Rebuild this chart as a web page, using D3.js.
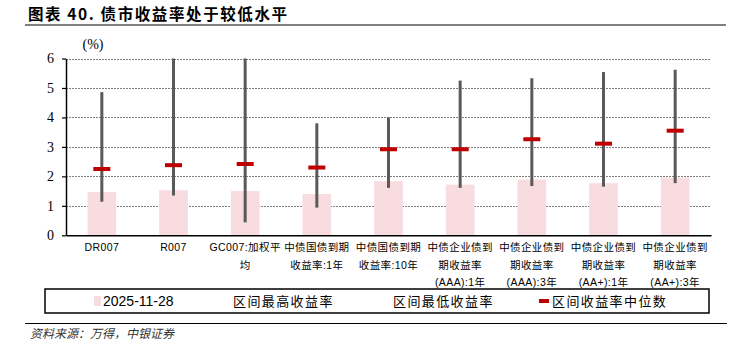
<!DOCTYPE html>
<html>
<head>
<meta charset="utf-8">
<script src="https://cdn.jsdelivr.net/npm/d3@7"></script>
<style>
  html, body { margin: 0; padding: 0; background: #fff; }
  svg { display: block; }
</style>
</head>
<body>
<svg id="chart" width="730" height="344"></svg>
<script>
// ---- data ----
const categories = [
  "DR007",
  "R007",
  "GC007:加权平均",
  "中债国债到期收益率:1年",
  "中债国债到期收益率:10年",
  "中债企业债到期收益率(AAA):1年",
  "中债企业债到期收益率(AAA):3年",
  "中债企业债到期收益率(AA+):1年",
  "中债企业债到期收益率(AA+):3年"
];
const categoryLabelLines = [
  ["DR007"],
  ["R007"],
  ["GC007:加权平", "均"],
  ["中债国债到期", "收益率:1年"],
  ["中债国债到期", "收益率:10年"],
  ["中债企业债到", "期收益率", "(AAA):1年"],
  ["中债企业债到", "期收益率", "(AAA):3年"],
  ["中债企业债到", "期收益率", "(AA+):1年"],
  ["中债企业债到", "期收益率", "(AA+):3年"]
];
const current = [1.47, 1.53, 1.50, 1.40, 1.84, 1.72, 1.89, 1.77, 1.96];   // 2025-11-28
const rangeHigh = [4.86, 6.00, 6.00, 3.80, 4.00, 5.25, 5.33, 5.54, 5.62]; // 区间最高收益率
const rangeLow = [1.14, 1.35, 0.44, 0.94, 1.61, 1.61, 1.67, 1.65, 1.77];  // 区间最低收益率
const median = [2.25, 2.38, 2.42, 2.30, 2.92, 2.92, 3.26, 3.11, 3.55];    // 区间收益率中位数
const yTicks = [0, 1, 2, 3, 4, 5, 6];
const seriesNames = ["2025-11-28", "区间最高收益率", "区间最低收益率", "区间收益率中位数"];
const titleText = "图表 40. 债市收益率处于较低水平";
const unitText = "(%)";
const sourceText = "资料来源：万得，中银证券";

// ---- layout ----
const svg = d3.select("#chart");
const plot = { left: 66, right: 711, top: 58.5, bottom: 235.3 };
const cjk = "'Noto Sans CJK SC', 'Noto Sans', sans-serif";
const latinCjk = "'Liberation Sans', 'Noto Sans CJK SC', sans-serif";
const serif = "'Liberation Serif', 'DejaVu Serif', serif";

const x = d3.scaleBand().domain(categories).range([plot.left, plot.right]).paddingInner(0).paddingOuter(0);
const y = d3.scaleLinear().domain([0, 6]).range([plot.bottom, plot.top]);

// title
svg.append("text").attr("x", 28).attr("y", 20)
  .attr("font-family", cjk).attr("font-weight", "bold").attr("font-size", 15.5)
  .attr("letter-spacing", 1.6)
  .attr("fill", "#000").text(titleText);
svg.append("line").attr("x1", 25).attr("x2", 726).attr("y1", 25).attr("y2", 25)
  .attr("stroke", "#808080").attr("stroke-width", 2);

// unit
svg.append("text").attr("x", 93).attr("y", 49).attr("text-anchor", "middle")
  .attr("font-family", serif).attr("font-size", 14).attr("fill", "#000").text(unitText);

// gridlines
svg.append("g").selectAll("line").data(yTicks.filter(d => d > 0)).join("line")
  .attr("x1", plot.left).attr("x2", plot.right)
  .attr("y1", d => Math.round(y(d)) + 0.5).attr("y2", d => Math.round(y(d)) + 0.5)
  .attr("stroke", "#808080").attr("stroke-width", 1).attr("stroke-dasharray", "2,1");

// bars (current)
const bw = x.bandwidth() * 0.4;
svg.append("g").selectAll("rect").data(categories).join("rect")
  .attr("x", (d) => x(d) + (x.bandwidth() - bw) / 2)
  .attr("width", bw)
  .attr("y", (d, i) => y(current[i]))
  .attr("height", (d, i) => y(0) - y(current[i]))
  .attr("fill", "#f9dce0");

// range lines
svg.append("g").selectAll("line").data(categories).join("line")
  .attr("x1", d => x(d) + x.bandwidth() / 2).attr("x2", d => x(d) + x.bandwidth() / 2)
  .attr("y1", (d, i) => y(rangeHigh[i])).attr("y2", (d, i) => y(rangeLow[i]))
  .attr("stroke", "#595959").attr("stroke-width", 3);

// median marks
const mw = 17, mh = 4;
svg.append("g").selectAll("rect").data(categories).join("rect")
  .attr("x", d => x(d) + x.bandwidth() / 2 - mw / 2)
  .attr("y", (d, i) => y(median[i]) - mh / 2)
  .attr("width", mw).attr("height", mh)
  .attr("fill", "#c00000");

// y axis
const yAxis = d3.axisLeft(y).tickValues(yTicks).tickSize(4).tickSizeOuter(0).tickPadding(8).tickFormat(d3.format("d"));
const gy = svg.append("g").attr("transform", `translate(${plot.left},0)`).call(yAxis);
gy.select(".domain").attr("stroke", "#000").attr("stroke-width", 1.5);
gy.selectAll(".tick line").attr("stroke", "#000").attr("stroke-width", 1.2);
gy.selectAll(".tick text").attr("font-family", serif).attr("font-size", 14).attr("fill", "#000");

// x axis
const xAxis = d3.axisBottom(x).tickSize(0).tickSizeOuter(0).tickFormat(() => "");
const gx = svg.append("g").attr("transform", `translate(0,${plot.bottom})`).call(xAxis);
gx.select(".domain").attr("stroke", "#000").attr("stroke-width", 1.6);

// x labels (multi-line)
const lbl = svg.append("g").selectAll("text").data(categories).join("text")
  .attr("text-anchor", "middle")
  .attr("font-family", latinCjk).attr("font-size", 10.5).attr("letter-spacing", 0.4).attr("fill", "#000");
lbl.each(function (d, i) {
  const t = d3.select(this);
  categoryLabelLines[i].forEach((line, k) => {
    t.append("tspan").attr("x", x(d) + x.bandwidth() / 2).attr("y", 251 + k * 17.5).text(line);
  });
});

// legend
const lg = svg.append("g");
lg.append("rect").attr("x", 45).attr("y", 289).attr("width", 664).attr("height", 24)
  .attr("fill", "none").attr("stroke", "#000").attr("stroke-width", 1.5);
lg.append("rect").attr("x", 94).attr("y", 296).attr("width", 7).attr("height", 10).attr("fill", "#f9dce0");
lg.append("text").attr("x", 103).attr("y", 306).attr("font-family", "'Liberation Sans', Arial, sans-serif")
  .attr("font-size", 14).attr("fill", "#000").text(seriesNames[0]);
lg.append("text").attr("x", 233).attr("y", 306).attr("font-family", cjk).attr("font-size", 13)
  .attr("letter-spacing", 1.4).attr("fill", "#000").text(seriesNames[1]);
lg.append("text").attr("x", 393).attr("y", 306).attr("font-family", cjk).attr("font-size", 13)
  .attr("letter-spacing", 1.4).attr("fill", "#000").text(seriesNames[2]);
lg.append("rect").attr("x", 539).attr("y", 299).attr("width", 10).attr("height", 4).attr("fill", "#c00000");
lg.append("text").attr("x", 552).attr("y", 306).attr("font-family", cjk).attr("font-size", 13)
  .attr("letter-spacing", 1.4).attr("fill", "#000").text(seriesNames[3]);

// source
svg.append("line").attr("x1", 25).attr("x2", 727).attr("y1", 323.5).attr("y2", 323.5)
  .attr("stroke", "#000").attr("stroke-width", 1.2);
svg.append("text").attr("x", 30).attr("y", 338).attr("font-family", cjk).attr("font-size", 12)
  .attr("font-style", "italic").attr("fill", "#333").text(sourceText);
</script>
</body>
</html>
